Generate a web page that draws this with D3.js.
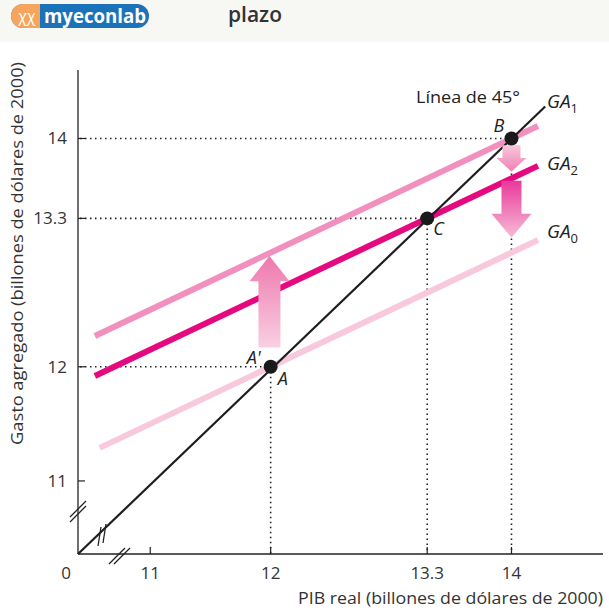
<!DOCTYPE html>
<html>
<head>
<meta charset="utf-8">
<script src="https://cdn.jsdelivr.net/npm/d3@7"></script>
<style>
  body { margin: 0; background: #fff; }
  svg { display: block; font-family: "Open Sans", Lato, sans-serif; }
</style>
</head>
<body>
<svg id="chart"></svg>
<script>
var width = 609;
var height = 610;

// chart values
var xTicks = [11, 12, 13.3, 14];
var yTicks = [11, 12, 13.3, 14];
var gaNames = ['1', '2', '0'];          // subscripts of GA1, GA2, GA0
var gaAnchors = [14, 13.3, 12];          // where each GA line meets the 45 degree line
var gaSlope = 0.5;
var gaStart = [10.54, 10.54, 10.58];
var gaEnd = [14.22, 14.22, 14.22];
var gaColors = ['#f190be', '#e5097f', '#f8c9dd'];
var pointNames = ['B', 'C', 'A'];
var pointValues = [14, 13.3, 12];

var svg = d3.select('#chart')
    .attr('width', width)
    .attr('height', height);

var x = d3.scaleLinear().domain([10.4, 14.76]).range([78, 603]);
var y = d3.scaleLinear().domain([10.36, 14.6]).range([554, 70]);

// top band + header
svg.append('rect')
    .attr('width', width).attr('height', 42)
    .attr('fill', '#f7f7f4');

var logo = svg.append('g').attr('transform', 'translate(11, 4)');
logo.append('rect')
    .attr('width', 138).attr('height', 24).attr('rx', 12)
    .attr('fill', '#1a72b8');
logo.append('path')
    .attr('d', 'M12,0 H29 V24 H12 A12,12 0 0 1 12,0 Z')
    .attr('fill', '#f7a45c');
logo.append('text')
    .attr('x', 16).attr('y', 18)
    .attr('text-anchor', 'middle')
    .attr('font-size', 16).attr('fill', '#fff')
    .text('\u03c7\u03c7');
logo.append('text')
    .attr('x', 33).attr('y', 19)
    .attr('font-size', 19).attr('font-weight', 700).attr('fill', '#fff')
    .attr('textLength', 102).attr('lengthAdjust', 'spacingAndGlyphs')
    .text('myeconlab');

svg.append('text')
    .attr('x', 228).attr('y', 22)
    .attr('font-size', 21).attr('font-weight', 600)
    .attr('fill', '#333')
    .text('plazo');

// gradients for arrows
var defs = svg.append('defs');
function addGradient(id, top, bottom) {
  var g = defs.append('linearGradient')
      .attr('id', id)
      .attr('x1', 0).attr('y1', 0).attr('x2', 0).attr('y2', 1);
  g.append('stop').attr('offset', '0%').attr('stop-color', top);
  g.append('stop').attr('offset', '100%').attr('stop-color', bottom);
}
addGradient('gradUp', '#ee78ae', '#f9d0e2');
addGradient('gradSmall', '#f8c6dc', '#ee82b4');
addGradient('gradBig', '#e8399a', '#f7bcd8');

// axes
svg.append('line')
    .attr('x1', x(10.4)).attr('y1', y(10.36))
    .attr('x2', x(10.4)).attr('y2', y(14.6))
    .attr('stroke', '#222').attr('stroke-width', 1.3);
svg.append('line')
    .attr('x1', x(10.4)).attr('y1', y(10.36))
    .attr('x2', x(14.76)).attr('y2', y(10.36))
    .attr('stroke', '#222').attr('stroke-width', 1.3);

// small ticks
svg.selectAll('.xtick')
    .data(xTicks)
    .enter()
    .append('line')
      .attr('x1', function(d) { return x(d); })
      .attr('x2', function(d) { return x(d); })
      .attr('y1', y(10.36)).attr('y2', y(10.36) - 7)
      .attr('stroke', '#222').attr('stroke-width', 1.2);
svg.selectAll('.ytick')
    .data(yTicks)
    .enter()
    .append('line')
      .attr('x1', x(10.4)).attr('x2', x(10.4) + 7)
      .attr('y1', function(d) { return y(d); })
      .attr('y2', function(d) { return y(d); })
      .attr('stroke', '#222').attr('stroke-width', 1.2);

// tick labels
svg.selectAll('.xlabel')
    .data(xTicks)
    .enter()
    .append('text')
      .attr('x', function(d) { return x(d); })
      .attr('y', 579)
      .attr('text-anchor', 'middle')
      .attr('font-size', 17).attr('fill', '#333')
      .text(function(d) { return d; });
svg.selectAll('.ylabel')
    .data(yTicks)
    .enter()
    .append('text')
      .attr('x', 67)
      .attr('y', function(d) { return y(d) + 6; })
      .attr('text-anchor', 'end')
      .attr('font-size', 17).attr('fill', '#333')
      .text(function(d) { return d; });
svg.append('text')
    .attr('x', 66).attr('y', 579)
    .attr('text-anchor', 'middle')
    .attr('font-size', 17).attr('fill', '#333')
    .text('0');

// axis titles
svg.append('text')
    .attr('x', 298).attr('y', 604)
    .attr('font-size', 16.5).attr('fill', '#333')
    .attr('textLength', 305).attr('lengthAdjust', 'spacingAndGlyphs')
    .text('PIB real (billones de d\u00f3lares de 2000)');
svg.append('text')
    .attr('transform', 'translate(23, 445) rotate(-90)')
    .attr('font-size', 16.5).attr('fill', '#333')
    .attr('textLength', 383).attr('lengthAdjust', 'spacingAndGlyphs')
    .text('Gasto agregado (billones de d\u00f3lares de 2000)');

// dotted guide lines
var guides = svg.append('g')
    .attr('stroke', '#222').attr('stroke-width', 1.6)
    .attr('stroke-dasharray', '1.5,3.5');
pointValues.forEach(function(v) {
  guides.append('line')
      .attr('x1', x(10.4) + 2).attr('x2', x(v))
      .attr('y1', y(v)).attr('y2', y(v));
  guides.append('line')
      .attr('x1', x(v)).attr('x2', x(v))
      .attr('y1', y(v)).attr('y2', y(10.36));
});

// GA lines
svg.selectAll('.ga')
    .data(gaAnchors)
    .enter()
    .append('line')
      .attr('x1', function(d, i) { return x(gaStart[i]); })
      .attr('y1', function(d, i) { return y(d + gaSlope * (gaStart[i] - d)); })
      .attr('x2', function(d, i) { return x(gaEnd[i]); })
      .attr('y2', function(d, i) { return y(d + gaSlope * (gaEnd[i] - d)); })
      .attr('stroke', function(d, i) { return gaColors[i]; })
      .attr('stroke-width', 6);

// 45 degree line
svg.append('line')
    .attr('x1', x(10.4)).attr('y1', y(10.36))
    .attr('x2', x(14.28)).attr('y2', y(14.28))
    .attr('stroke', '#1e1e1e').attr('stroke-width', 2.2);

// arrows: centre, tail, head base, tip (data units), half widths (px)
function arrow(xc, tail, base, tip, sh, hh, fill) {
  var cx = x(xc);
  var p = [
    [cx - sh, y(tail)], [cx - sh, y(base)], [cx - hh, y(base)],
    [cx, y(tip)],
    [cx + hh, y(base)], [cx + sh, y(base)], [cx + sh, y(tail)]
  ];
  svg.append('path')
      .attr('d', d3.line()(p) + 'Z')
      .attr('fill', fill);
}
arrow(11.99, 12.17, 12.75, 12.97, 11, 20, 'url(#gradUp)');
arrow(14, 13.94, 13.83, 13.71, 9, 15, 'url(#gradSmall)');
arrow(14, 13.63, 13.34, 13.13, 10, 20, 'url(#gradBig)');

// axis break marks
var breaks = svg.append('g')
    .attr('stroke', '#222').attr('stroke-width', 1.3).attr('fill', 'none');
[0, 5].forEach(function(o) {
  breaks.append('line')
      .attr('x1', 70).attr('y1', 522 - o).attr('x2', 86).attr('y2', 506 - o);
  breaks.append('line')
      .attr('x1', 109 + o).attr('y1', 564).attr('x2', 125 + o).attr('y2', 548);
  breaks.append('line')
      .attr('x1', 98 + o).attr('y1', 546 - o * 0.6).attr('x2', 101 + o).attr('y2', 527 - o * 0.6);
});

// points
svg.selectAll('.pt')
    .data(pointValues)
    .enter()
    .append('circle')
      .attr('cx', function(d) { return x(d); })
      .attr('cy', function(d) { return y(d); })
      .attr('r', 7)
      .attr('fill', '#1a1a1a');

// point labels
var pointLabel = svg.append('g')
    .attr('font-size', 18).attr('font-style', 'italic').attr('fill', '#222');
pointLabel.append('text').attr('x', x(14) - 18).attr('y', y(14) - 6).text('B');
pointLabel.append('text').attr('x', x(13.3) + 6).attr('y', y(13.3) + 17).text('C');
pointLabel.append('text').attr('x', x(12) + 7).attr('y', y(12) + 18).text('A');
pointLabel.append('text').attr('x', x(12) - 24).attr('y', y(12) - 3).text("A'");

// line labels
svg.append('text')
    .attr('x', 416).attr('y', 103)
    .attr('font-size', 16).attr('fill', '#222')
    .attr('textLength', 104).attr('lengthAdjust', 'spacingAndGlyphs')
    .text('L\u00ednea de 45\u00b0');

var gaLabelY = [108, 170, 238];
gaNames.forEach(function(n, i) {
  var t = svg.append('text')
      .attr('x', 547).attr('y', gaLabelY[i])
      .attr('font-size', 19).attr('font-style', 'italic').attr('fill', '#222');
  t.append('tspan').text('GA');
  t.append('tspan').attr('font-size', 13).attr('font-style', 'normal')
      .attr('dy', 5).text(n);
});
</script>
</body>
</html>
